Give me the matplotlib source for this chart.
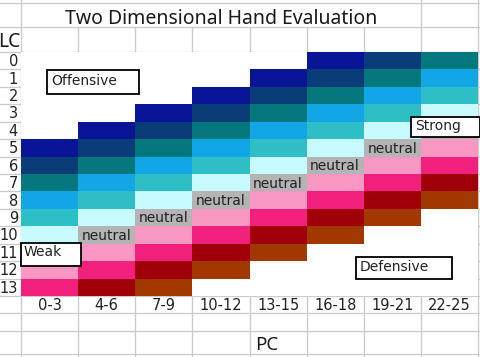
import matplotlib
matplotlib.use("Agg")
import matplotlib.pyplot as plt
import numpy as np
from matplotlib.colors import ListedColormap, BoundaryNorm
from matplotlib.patches import Rectangle

# ---------------- data ----------------
title = "Two Dimensional Hand Evaluation"
pc_labels = ["0-3", "4-6", "7-9", "10-12", "13-15", "16-18", "19-21", "22-25"]
lc_labels = ["0", "1", "2", "3", "4", "5", "6", "7", "8", "9", "10", "11", "12", "13"]
# LC row at which the strongest (navy) band starts for each PC column
band_start_row = [5, 4, 3, 2, 1, 0, -1, -2]
# colour bands from strongest/offensive to defensive
band_colors = ["#0a1496", "#0a3c78", "#05787e", "#12a6e6", "#2ebfc6", "#c8fbff",
               "#b4b4b4", "#f898c2", "#f0207c", "#a00008", "#a03800"]
neutral_band = 6
neutral_text = "neutral"
zone_labels = ["Offensive", "Weak", "Strong", "Defensive"]
# PC columns whose neutral cell is covered by a zone label box
neutral_covered_cols = [0, 7]

# ---------------- layout ----------------
W, H = 481, 357
COLW, ROWH = 57.15, 17.43
X0, Y0 = 21, 52  # pixel position of grid origin


def px_x(p):
    return (p - X0) / COLW


def px_y(p):
    return (p - Y0) / ROWH


fig = plt.figure(figsize=(W / 100, H / 100), dpi=100)
ax = fig.add_axes([0, 0, 1, 1])
ax.set_xlim(px_x(0), px_x(W))
ax.set_ylim(px_y(H), px_y(0))
ax.axis("off")

ncol, nrow = len(pc_labels), len(lc_labels)

# band index matrix
Z = np.full((nrow, ncol), -1)
for c, s in enumerate(band_start_row):
    for r in range(nrow):
        b = r - s
        if 0 <= b < len(band_colors):
            Z[r, c] = b

cmap = ListedColormap(["white"] + band_colors)
norm = BoundaryNorm(np.arange(-1.5, len(band_colors) + 0.5, 1), cmap.N)
ax.pcolormesh(np.arange(ncol + 1), np.arange(nrow + 1), Z, cmap=cmap, norm=norm,
              zorder=2, shading="flat")

# spreadsheet gridlines
gcol = "#cccccc"
for x in range(ncol + 1):
    ax.plot([x, x], [px_y(27), px_y(H)], color=gcol, lw=1, zorder=1)
for x in [0, 7, 8]:
    ax.plot([x, x], [px_y(0), px_y(27)], color=gcol, lw=1, zorder=1)
for y in list(range(nrow + 3)) + [px_y(3), px_y(27), px_y(354)]:
    ax.plot([px_x(0), px_x(W)], [y, y], color=gcol, lw=1, zorder=1)

# neutral labels
for c, s in enumerate(band_start_row):
    r = s + neutral_band
    if 0 <= r < nrow and c not in neutral_covered_cols:
        ax.text(c + 0.06, r + 0.55, neutral_text, ha="left", va="center",
                fontsize=10, color="#222222", zorder=3)

# row / column labels
for r, lab in enumerate(lc_labels):
    ax.text(px_x(18), r + 0.55, lab, ha="right", va="center", fontsize=10.5,
            color="#222222", zorder=3)
for c, lab in enumerate(pc_labels):
    ax.text(c + 0.5, 14.55, lab, ha="center", va="center", fontsize=10.5,
            color="#222222", zorder=3)

ax.text(3.5, px_y(24), title, ha="center", va="baseline", fontsize=14,
        family="Noto Sans", color="#1a1a1a", zorder=3)
ax.text(px_x(21), px_y(47), "LC", ha="right", va="baseline", fontsize=14,
        family="Noto Sans", color="#1a1a1a", zorder=3)
ax.text(px_x(255), px_y(350), "PC", ha="left", va="baseline", fontsize=13.5,
        family="Noto Sans", color="#1a1a1a", zorder=3)

# zone boxes: (x0, x1, y0, y1) in pixels, text x, text y
boxes = [
    (47, 139, 70, 94, 51, 81),
    (21, 81, 243, 266, 24, 252),
    (411, 480, 117, 137, 415, 126),
    (356, 452, 257, 279, 360, 267),
]
for lab, (x0, x1, y0, y1, tx, ty) in zip(zone_labels, boxes):
    ax.add_patch(Rectangle((px_x(x0), px_y(y0)), px_x(x1) - px_x(x0),
                           px_y(y1) - px_y(y0), facecolor="white",
                           edgecolor="black", lw=1.3, zorder=5))
    ax.text(px_x(tx), px_y(ty), lab, ha="left", va="center", fontsize=10,
            color="#222222", zorder=6)

fig.savefig("out.png", dpi=100)
